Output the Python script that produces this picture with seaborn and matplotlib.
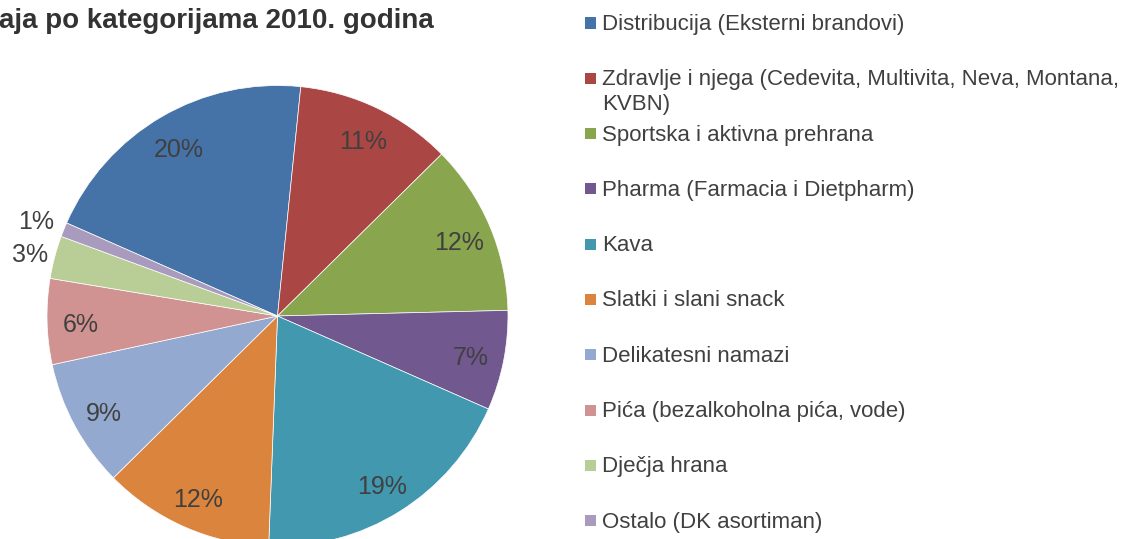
import numpy as np
import matplotlib
matplotlib.use("Agg")
import matplotlib.pyplot as plt
from matplotlib.patches import Rectangle
import seaborn as sns

# data
categories = [
    "Distribucija (Eksterni brandovi)",
    "Zdravlje i njega (Cedevita, Multivita, Neva, Montana,\nKVBN)",
    "Sportska i aktivna prehrana",
    "Pharma (Farmacia i Dietpharm)",
    "Kava",
    "Slatki i slani snack",
    "Delikatesni namazi",
    "Pića (bezalkoholna pića, vode)",
    "Dječja hrana",
    "Ostalo (DK asortiman)",
]
shares = [20, 11, 12, 7, 19, 12, 9, 6, 3, 1]
colors = ["#4572A7", "#AA4643", "#89A54E", "#71588F", "#4198AF",
          "#DB843D", "#93A9CF", "#D19392", "#B9CD96", "#A99BBD"]
title = "aja po kategorijama 2010. godina"

sns.set_theme(style="white")
plt.rcParams["font.family"] = ["Liberation Sans", "DejaVu Sans"]
txt_color = "#404040"

W, H = 1136, 539
fig = plt.figure(figsize=(W / 100, H / 100), dpi=100)

# pie centre (277.5, 316) px, radius 230.5 px
cx, cy, r = 277.5, 316, 230.5
ax = fig.add_axes([(cx - r) / W, (H - cy - r) / H, 2 * r / W, 2 * r / H])

wedges, texts, autotexts = ax.pie(
    shares, colors=sns.color_palette(colors), startangle=156.2, counterclock=False,
    autopct="%1.0f%%", pctdistance=0.855,
    wedgeprops=dict(edgecolor="white", linewidth=0.5),
    textprops=dict(fontsize=18, color=txt_color),
)
dy = 4 / r  # small downward nudge, Excel centres on the digits
for w, t, v in zip(wedges, autotexts, shares):
    ang = np.deg2rad((w.theta1 + w.theta2) / 2)
    d = 0.855
    if v < 5:  # small slices: labels outside
        d = 1.13 if v < 2 else 1.11
    t.set_position((d * np.cos(ang), d * np.sin(ang) - dy))

ax.set_xlim(-1, 1)
ax.set_ylim(-1, 1)
ax.set_aspect("auto")
ax.axis("off")

fig.text(434 / W, 1 - 21 / H, title, ha="right", va="center",
         fontsize=20, fontweight="bold", color="#333333")

# legend drawn by hand, Excel-style even spacing
for i, (lab, col) in enumerate(zip(categories, colors)):
    y = 23 + i * 55.3
    fig.patches.append(Rectangle((585 / W, 1 - (y + 5.5) / H), 11 / W, 11 / H,
                                 transform=fig.transFigure, facecolor=col,
                                 edgecolor="none"))
    fig.text(602 / W, 1 - (y - 9) / H, lab, ha="left", va="top",
             fontsize=16, color=txt_color, linespacing=1.25)

fig.savefig("out.png", dpi=100)
